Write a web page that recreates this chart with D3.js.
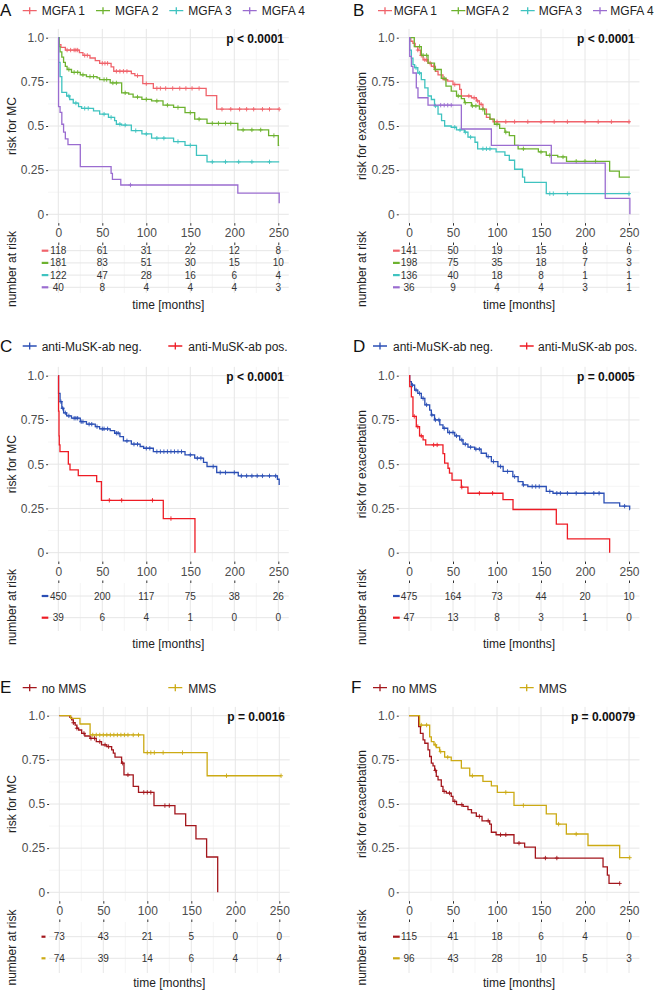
<!DOCTYPE html>
<html><head><meta charset="utf-8">
<script src="https://cdn.jsdelivr.net/npm/d3@7"></script>
<style>
body{margin:0;background:#fff}
svg{display:block}
text{font-family:"Liberation Sans",Arial,Helvetica,sans-serif}
</style>
</head><body>
<svg id="chart" width="658" height="991"></svg>
<script>
// ---------------- DATA ----------------
const mgfaGroups = ["MGFA 1","MGFA 2","MGFA 3","MGFA 4"];
const muskGroups = ["anti-MuSK-ab neg.","anti-MuSK-ab pos."];
const mmsGroups = ["no MMS","MMS"];
const xTicks = [0,50,100,150,200,250];
const xMinor = [25,75,125,175,225];
const yTicks = [0,0.25,0.5,0.75,1];
const yTickLabels = ["0","0.25","0.5","0.75","1.0"];
const yMinor = [0.125,0.375,0.625,0.875];
const panelLetters = ["A","B","C","D","E","F"];
const pValues = ["p < 0.0001","p < 0.0001","p < 0.0001","p = 0.0005","p = 0.0016","p = 0.00079"];
const yTitles = ["risk for MC","risk for exacerbation"];
const xTitle = "time [months]";
const riskTitle = "number at risk";

// Panel A: MC by MGFA
const mcMgfa1 = [[0,1],[1,0.96],[3,0.945],[8,0.93],[24,0.915],[28,0.9],[36,0.885],[42,0.87],[47,0.855],[60,0.835],[63,0.81],[83,0.797],[87,0.785],[96,0.74],[108,0.713],[168,0.672],[180,0.595]];
const mcMgfa2 = [[0,1],[1,0.95],[2,0.92],[4,0.89],[6,0.86],[8,0.838],[10,0.82],[15,0.804],[25,0.79],[32,0.78],[44,0.772],[47,0.763],[59,0.744],[72,0.688],[80,0.68],[85,0.664],[95,0.651],[106,0.642],[119,0.618],[131,0.605],[144,0.576],[155,0.539],[169,0.515],[204,0.478],[239,0.446],[250,0.39]];
const mcMgfa3 = [[0,1],[0.5,0.86],[2,0.78],[4,0.69],[9.5,0.67],[13,0.65],[17,0.63],[23,0.61],[26.5,0.6],[40,0.586],[47,0.567],[57,0.549],[64,0.53],[66,0.51],[72,0.505],[83,0.474],[95,0.455],[106,0.431],[131,0.412],[144,0.39],[157,0.334],[169,0.297]];
const mcMgfa4 = [[0,1],[0.3,0.61],[2,0.577],[4,0.51],[6,0.465],[8,0.427],[11,0.394],[25,0.27],[60,0.232],[61.5,0.198],[71,0.166],[204,0.12],[251,0.062]];
const mcMgfaEnd = [251,251,251,251];
const mcMgfaCens = [
  [10,14,18,20,22,30,33,50,53,56,66,70,74,78,90,100,112,116,122,130,138,145,152,160,186,196,206,214,222,232,240,251],
  [12,18,22,28,36,40,52,55,62,66,76,90,100,112,124,136,150,160,175,182,190,196,210,220,230,245],
  [12,20,30,34,52,60,70,76,88,100,112,120,136,150,175,190,205,220,240],
  [82]
];
const riskA = [[118,61,31,22,12,8],[181,83,51,30,15,10],[122,47,28,16,6,4],[40,8,4,4,4,3]];

// Panel B: exacerbation by MGFA
const exMgfa1 = [[0,1],[2,0.98],[4.5,0.968],[7,0.95],[10,0.93],[13,0.9],[16,0.875],[21.6,0.856],[25.4,0.838],[30,0.81],[33,0.79],[38.6,0.763],[44,0.754],[50,0.735],[57.6,0.707],[59.5,0.67],[71,0.66],[76.5,0.642],[80,0.623],[84,0.595],[88,0.549],[92,0.539],[95.5,0.524]];
const exMgfa2 = [[0,1],[6,0.95],[14,0.9],[21.6,0.856],[29,0.82],[36.7,0.77],[42,0.726],[48,0.698],[54,0.67],[59.5,0.655],[63,0.632],[71,0.614],[80,0.595],[86,0.567],[92,0.539],[97,0.51],[103,0.487],[109,0.465],[114,0.446],[120,0.39],[124,0.371],[147,0.353],[156,0.334],[169,0.325],[179,0.3],[228,0.245],[239,0.21]];
const exMgfa3 = [[0,1],[0.8,0.93],[2.7,0.884],[4.5,0.847],[6.4,0.83],[10,0.8],[14,0.763],[18,0.716],[21.6,0.67],[25.4,0.65],[29,0.614],[33,0.567],[37,0.53],[40.5,0.5],[48,0.493],[54,0.478],[63,0.465],[67,0.437],[75,0.408],[78,0.371],[99,0.353],[109,0.334],[114,0.306],[120,0.255],[129,0.21],[131.4,0.181],[156,0.117]];
const exMgfa4 = [[0,1],[0.8,0.894],[2.7,0.838],[4.5,0.8],[8.3,0.716],[10.2,0.66],[21.6,0.618],[59.5,0.483],[93.6,0.39],[161.7,0.29],[223,0.09],[251,0]];
const exMgfaEnd = [251,251,251,251];
const exMgfaCens = [
  [10,14,18,20,24,28,42,52,68,74,78,82,100,110,120,135,150,165,180,200,215,230,250],
  [12,16,20,30,40,56,64,72,76,84,100,110,130,150,160,175,190,200,212],
  [8,12,30,52,58,64,70,84,88,92,160,164,180,250],
  [36,40,44,48]
];
const riskB = [[141,50,19,15,8,6],[198,75,35,18,7,3],[136,40,18,8,1,1],[36,9,4,4,3,1]];

// Panel C: MC by anti-MuSK
const mcMuskNeg = [[0,1],[0.3,0.9],[2,0.853],[4,0.816],[6,0.79],[9.5,0.773],[15,0.76],[25,0.74],[32,0.726],[42,0.712],[47,0.7],[59,0.69],[64,0.675],[70,0.656],[74,0.632],[83,0.613],[93,0.6],[97,0.59],[108,0.571],[144,0.553],[155,0.534],[165,0.51],[169,0.487],[180,0.453],[204.5,0.434],[249,0.415],[251,0.383]];
const mcMuskPos = [[0,1],[0.3,0.8],[0.8,0.66],[1.1,0.609],[1.9,0.571],[11.4,0.5],[13.3,0.468],[22.7,0.436],[43.6,0.402],[49,0.296],[119.3,0.193],[155.3,0]];
const mcMuskEnd = [251,155.3];
const mcMuskCens = [
  [3,5,8,12,18,20,22,26,28,35,38,44,50,52,56,66,68,78,86,90,100,104,112,116,120,124,128,132,136,140,150,158,162,176,184,190,200,208,214,220,226,232,240,247],
  [58,72,107,128]
];
const riskC = [[450,200,117,75,38,26],[39,6,4,1,0,0]];

// Panel D: exacerbation by anti-MuSK
const exMuskNeg = [[0,1],[0.8,0.966],[2.7,0.947],[6.4,0.919],[10,0.9],[14,0.872],[18,0.835],[23.5,0.806],[25.4,0.778],[29,0.75],[35,0.722],[38.6,0.703],[44,0.679],[52,0.66],[57.6,0.637],[61.4,0.613],[67,0.596],[74.6,0.585],[82,0.562],[88,0.543],[93.6,0.515],[101,0.487],[107,0.459],[118,0.43],[124,0.402],[129.5,0.383],[135,0.374],[156,0.346],[163.6,0.336],[221.6,0.282],[239.4,0.263],[250.8,0.244]];
const exMuskPos = [[0,1],[0.8,0.938],[2.7,0.88],[4.5,0.77],[8.3,0.712],[12,0.66],[16,0.637],[19,0.609],[38.6,0.56],[40.5,0.506],[44.3,0.477],[46,0.45],[48.9,0.41],[59.5,0.37],[67,0.336],[106.8,0.3],[118.2,0.244],[167.4,0.162],[180,0.078],[228,0]];
const exMuskEnd = [251,228];
const exMuskCens = [
  [4,8,12,16,20,26,30,34,40,46,50,54,60,64,70,76,80,90,96,104,112,120,130,140,144,148,160,168,172,180,190,200,210,216,245],
  [6,10,14,28,32,60,80,95]
];
const riskD = [[475,164,73,44,20,10],[47,13,8,3,1,0]];

// Panel E: MC by MMS
const mcNoMms = [[0,1],[12,0.99],[14,0.976],[16,0.96],[18,0.947],[20,0.929],[22,0.919],[25.4,0.9],[29,0.885],[35,0.872],[42,0.853],[48,0.835],[54,0.825],[59.5,0.806],[61.4,0.788],[63.3,0.765],[70.8,0.731],[73.5,0.665],[84,0.6],[90,0.566],[107.6,0.491],[131.4,0.444],[143.6,0.377],[155.3,0.302],[167.4,0.2],[180,0]];
const mcMms = [[0,1],[13,0.985],[23.5,0.953],[35,0.891],[96,0.791],[168,0.66]];
const mcMmsEnd = [180,252];
const mcMmsCens = [
  [16,20,28,36,40,46,52,56,72,78,96,100,104,120,125],
  [38,42,46,50,54,58,62,66,70,74,78,84,90,100,104,108,118,140,190,252]
];
const riskE = [[73,43,21,5,0,0],[74,39,14,6,4,4]];

// Panel F: exacerbation by MMS
const exNoMms = [[0,1],[11,0.938],[13,0.9],[16,0.863],[18,0.844],[21.6,0.806],[23.5,0.769],[25.4,0.731],[27.3,0.716],[29.2,0.69],[31,0.656],[33,0.637],[36.7,0.6],[38.6,0.571],[42.4,0.562],[48,0.543],[50,0.515],[54,0.496],[61.4,0.487],[67,0.468],[71,0.45],[76.5,0.43],[83,0.405],[91.7,0.386],[93.6,0.34],[99,0.326],[119.3,0.278],[131.4,0.256],[143.6,0.194],[220.5,0.144],[225.4,0.097],[227.3,0.05]];
const exMms = [[0,1],[12,0.947],[23.5,0.88],[25.4,0.853],[28.4,0.835],[31,0.82],[34.8,0.797],[40.5,0.765],[48,0.746],[59.5,0.703],[69,0.66],[84,0.628],[93.6,0.603],[100.4,0.566],[119.3,0.492],[156,0.444],[167.4,0.386],[178.8,0.33],[203.4,0.265],[239.4,0.196]];
const exMmsEnd = [239.4,250.8];
const exMmsCens = [
  [30,40,46,52,60,80,90,104,110,125,155,168,239.4],
  [14,20,30,36,44,72,110,130,170,190,250.8]
];
const riskF = [[115,41,18,6,4,0],[96,43,28,10,5,3]];

const mgfaColors = ["#F0636B","#6DB22F","#3FC3C0","#9A6CD0"];
const muskColors = ["#2B4FB5","#EE1C25"];
const mmsColors = ["#A3161C","#CCAA14"];

// ---------------- LAYOUT ----------------
const FONT = '"Liberation Sans",Arial,Helvetica,sans-serif';
const panels = [
  {letter:0, groups:mgfaGroups, colors:mgfaColors, curves:[mcMgfa1,mcMgfa2,mcMgfa3,mcMgfa4], ends:mcMgfaEnd, cens:mcMgfaCens, risk:riskA, ytitle:0,
   x0:58.3, yTop:37.7, yBot:214.3, letterX:0, letterY:15.5, legY:10.7, legTextY:15, legM:[22.7,96,169.3,242.7], legT:[41.7,115,188.3,261.7],
   pX:284, pY:42.5, titleX:15.5, tTop:245, tBot:293, rows:[250.7,287.3], timeY:309, dash:[41.7,48.3]},
  {letter:1, groups:mgfaGroups, colors:mgfaColors, curves:[exMgfa1,exMgfa2,exMgfa3,exMgfa4], ends:exMgfaEnd, cens:exMgfaCens, risk:riskB, ytitle:1,
   x0:409, yTop:37.7, yBot:214.3, letterX:353, letterY:15.5, legY:10.7, legTextY:15, legM:[378,451.3,520.7,593], legT:[393.7,465.7,538.7,610.3],
   pX:634.7, pY:42.5, titleX:365.5, tTop:245, tBot:293, rows:[250.7,287.3], timeY:309, dash:[393,399.7]},
  {letter:2, groups:muskGroups, colors:muskColors, curves:[mcMuskNeg,mcMuskPos], ends:mcMuskEnd, cens:mcMuskCens, risk:riskC, ytitle:0,
   x0:58.3, yTop:375.7, yBot:552.7, letterX:0, letterY:352, legY:346, legTextY:350.5, legM:[22.7,168.3], legT:[41.7,188.3],
   pX:284, pY:380.5, titleX:15.5, tTop:583, tBot:631, rows:[596,617.7], timeY:647.5, dash:[41.7,48.3]},
  {letter:3, groups:muskGroups, colors:muskColors, curves:[exMuskNeg,exMuskPos], ends:exMuskEnd, cens:exMuskCens, risk:riskD, ytitle:1,
   x0:409, yTop:375.7, yBot:552.7, letterX:353, letterY:352, legY:346, legTextY:350.5, legM:[373,519.7], legT:[393,538],
   pX:634.7, pY:380.5, titleX:365.5, tTop:583, tBot:631, rows:[596,617.7], timeY:647.5, dash:[393,399.7]},
  {letter:4, groups:mmsGroups, colors:mmsColors, curves:[mcNoMms,mcMms], ends:mcMmsEnd, cens:mcMmsCens, risk:riskE, ytitle:0,
   x0:59.3, yTop:715.7, yBot:892.3, letterX:0, letterY:693, legY:687.7, legTextY:692.5, legM:[22.7,168.3], legT:[41.7,188.3],
   pX:285, pY:720.5, titleX:15.5, tTop:922, tBot:973, rows:[936.7,958.3], timeY:987, dash:[41.5,45.5]},
  {letter:5, groups:mmsGroups, colors:mmsColors, curves:[exNoMms,exMms], ends:exMmsEnd, cens:exMmsCens, risk:riskF, ytitle:1,
   x0:409, yTop:715.7, yBot:892.3, letterX:351, letterY:693, legY:687.7, legTextY:692.5, legM:[373,519.7], legT:[392,538.7],
   pX:635.3, pY:720.5, titleX:365.5, tTop:922, tBot:973, rows:[936.7,958.3], timeY:987, dash:[393,399.7]}
];

const svg = d3.select("#chart");

function stepAt(curve, t){
  let s = curve[0][1];
  for (const p of curve){ if (p[0] <= t) s = p[1]; else break; }
  return s;
}

panels.forEach(cfg => {
  const g = svg.append("g");
  const x = d3.scaleLinear().domain([0,250]).range([cfg.x0, cfg.x0 + 220]);
  const y = d3.scaleLinear().domain([0,1]).range([cfg.yBot, cfg.yTop]);
  const pL = x(-11.6), pR = x(261.9), pT = y(1.05), pB = y(-0.05);

  // grid - minor
  g.selectAll(null).data(xMinor).enter().append("line")
    .attr("x1", d=>x(d)).attr("x2", d=>x(d)).attr("y1", pT).attr("y2", pB)
    .attr("stroke", "#f0f0f0").attr("stroke-width", 0.7);
  g.selectAll(null).data(yMinor).enter().append("line")
    .attr("x1", pL).attr("x2", pR).attr("y1", d=>y(d)).attr("y2", d=>y(d))
    .attr("stroke", "#f0f0f0").attr("stroke-width", 0.7);
  // grid - major
  g.selectAll(null).data(xTicks).enter().append("line")
    .attr("x1", d=>x(d)).attr("x2", d=>x(d)).attr("y1", pT).attr("y2", pB)
    .attr("stroke", "#e6e6e6").attr("stroke-width", 1);
  g.selectAll(null).data(yTicks).enter().append("line")
    .attr("x1", pL).attr("x2", pR).attr("y1", d=>y(d)).attr("y2", d=>y(d))
    .attr("stroke", "#e6e6e6").attr("stroke-width", 1);

  // axes
  const yAxis = d3.axisLeft(y).tickValues(yTicks).tickFormat((d,i)=>yTickLabels[i]).tickSize(2).tickPadding(2);
  const ya = g.append("g").attr("transform", `translate(${pL},0)`).call(yAxis);
  const xAxis = d3.axisBottom(x).tickValues(xTicks).tickFormat(d=>String(d)).tickSize(2.5).tickPadding(3);
  const xa = g.append("g").attr("transform", `translate(0,${pB})`).call(xAxis);
  [ya, xa].forEach(a => {
    a.select(".domain").remove();
    a.selectAll(".tick line").attr("stroke", "#333").attr("stroke-width", 1);
    a.selectAll(".tick text").attr("fill", "#4d4d4d").style("font-size", "12px").style("font-family", FONT);
  });

  // curves
  const line = d3.line().x(d=>x(d[0])).y(d=>y(d[1])).curve(d3.curveStepAfter);
  cfg.curves.forEach((c, i) => {
    const pts = c.concat([[cfg.ends[i], c[c.length-1][1]]]);
    g.append("path").attr("d", line(pts)).attr("fill","none")
      .attr("stroke", cfg.colors[i]).attr("stroke-width", 1.3);
    g.selectAll(null).data(cfg.cens[i]).enter().append("path")
      .attr("transform", d => `translate(${x(d)},${y(stepAt(c,d))})`)
      .attr("d", "M-2,0H2M0,-2.2V2.2")
      .attr("stroke", cfg.colors[i]).attr("stroke-width", 0.9).attr("fill","none");
  });

  // p value
  g.append("text").attr("x", cfg.pX).attr("y", cfg.pY).attr("text-anchor","end")
    .attr("font-weight","bold").style("font-size","12px").attr("fill","#111")
    .text(pValues[cfg.letter]);

  // y title
  g.append("text").attr("transform", `translate(${cfg.titleX},${(pT+pB)/2}) rotate(-90)`)
    .attr("text-anchor","middle").style("font-size","12px").attr("fill","#222")
    .text(yTitles[cfg.ytitle]);

  // letter
  g.append("text").attr("x", cfg.letterX).attr("y", cfg.letterY)
    .style("font-size","17px").attr("fill","#111").text(panelLetters[cfg.letter]);

  // legend
  cfg.groups.forEach((name, i) => {
    const mx = cfg.legM[i];
    g.append("path").attr("d", `M${mx},${cfg.legY}H${mx+14}M${mx+7},${cfg.legY-3.5}V${cfg.legY+3.5}`)
      .attr("stroke", cfg.colors[i]).attr("stroke-width", 1.3).attr("fill","none");
    g.append("text").attr("x", cfg.legT[i]).attr("y", cfg.legTextY)
      .style("font-size","12px").attr("fill","#222").text(name);
  });

  // risk table
  const ry = d3.scalePoint().domain(cfg.groups).range(cfg.rows);
  const tg = g.append("g");
  tg.selectAll(null).data(xMinor.concat(xTicks)).enter().append("line")
    .attr("x1", d=>x(d)).attr("x2", d=>x(d)).attr("y1", cfg.tTop).attr("y2", cfg.tBot)
    .attr("stroke", (d)=> xTicks.includes(d) ? "#e6e6e6" : "#f0f0f0").attr("stroke-width", d=> xTicks.includes(d) ? 1 : 0.7);
  tg.selectAll(null).data(cfg.groups).enter().append("line")
    .attr("x1", pL).attr("x2", pR).attr("y1", d=>ry(d)).attr("y2", d=>ry(d))
    .attr("stroke", "#e6e6e6").attr("stroke-width", 1);
  const topAxis = d3.axisTop(x).tickValues(xTicks).tickSize(2.5).tickFormat("");
  const ta = tg.append("g").attr("transform", `translate(0,${cfg.tTop})`).call(topAxis);
  ta.select(".domain").remove();
  ta.selectAll(".tick line").attr("stroke","#333");
  cfg.groups.forEach((name, i) => {
    tg.append("line").attr("x1", cfg.dash[0]).attr("x2", cfg.dash[1])
      .attr("y1", ry(name)).attr("y2", ry(name))
      .attr("stroke", cfg.colors[i]).attr("stroke-width", 2.2);
    tg.selectAll(null).data(cfg.risk[i]).enter().append("text")
      .attr("x", (d,j)=>x(xTicks[j])).attr("y", ry(name)).attr("dy","0.35em")
      .attr("text-anchor","middle").style("font-size","10px").attr("fill","#333")
      .text(d=>d);
  });
  g.append("text").attr("transform", `translate(${cfg.titleX},${(cfg.tTop+cfg.tBot)/2}) rotate(-90)`)
    .attr("text-anchor","middle").style("font-size","12px").attr("fill","#222").text(riskTitle);
  g.append("text").attr("x", (x(0)+x(250))/2).attr("y", cfg.timeY)
    .attr("text-anchor","middle").style("font-size","12px").attr("fill","#222").text(xTitle);
});
</script>
</body></html>
